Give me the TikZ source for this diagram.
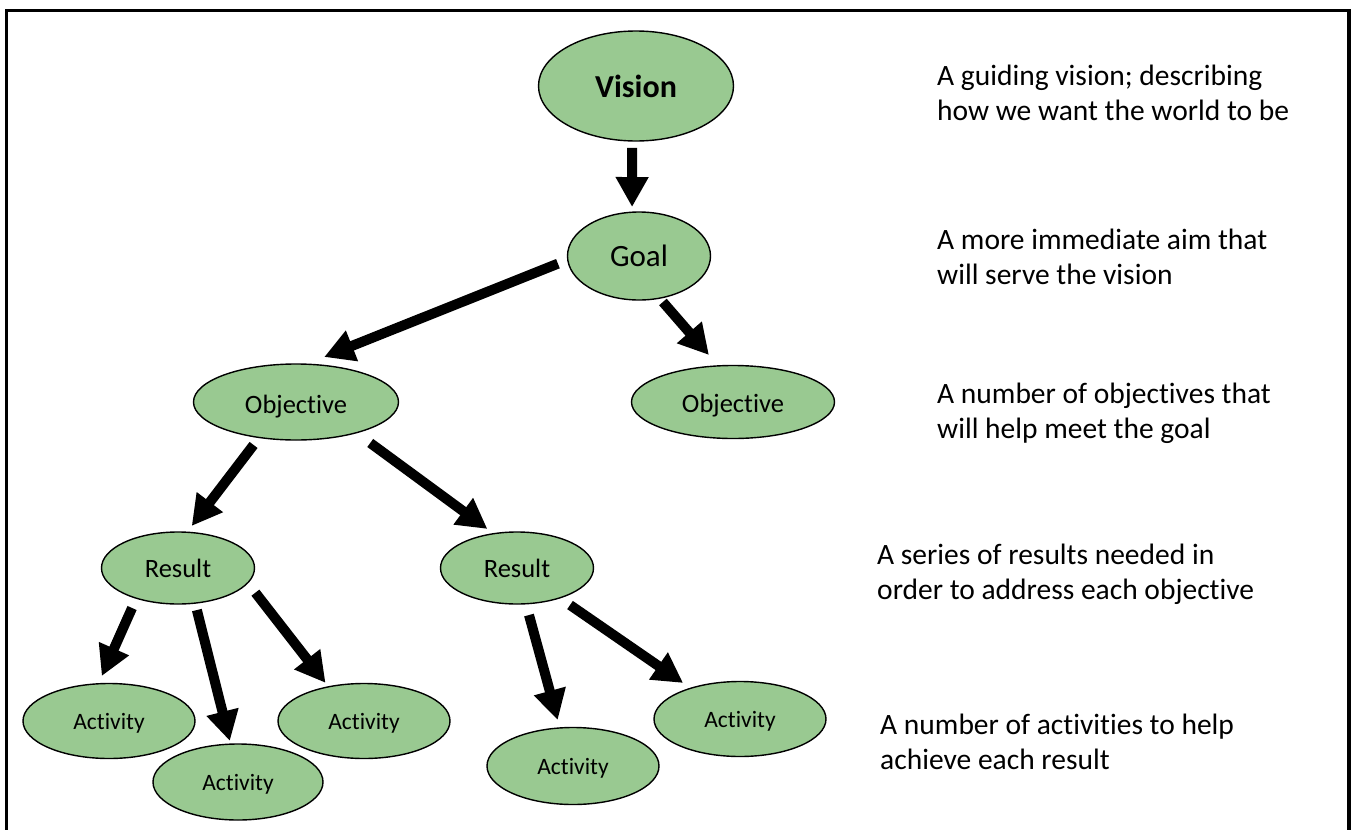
\documentclass[tikz,border=0pt]{standalone}
\usepackage{fontspec}
\setmainfont{Carlito}[Ligatures=NoCommon]
\usetikzlibrary{arrows.meta,shapes.geometric}
\definecolor{nodegreen}{RGB}{153,201,145}
\newcommand{\lowered}[2]{\raisebox{-#1}[\height][\depth]{#2}}
\begin{document}
\begin{tikzpicture}[x=1pt,y=-1pt,
  bubble/.style={ellipse,draw=black,line width=1.4pt,fill=nodegreen,inner sep=0pt,outer sep=0pt,text=black},
  bigarrow/.style={line width=10pt,-{Triangle[width=31pt,length=30pt]}},
  note/.style={anchor=base west,align=left,inner sep=0pt,font=\fontsize{29.5}{35.5}\selectfont},
  fvision/.style={font=\fontsize{32}{36}\selectfont\bfseries},
  fgoal/.style={font=\fontsize{31}{36}\selectfont},
  fmid/.style={font=\fontsize{26.5}{32}\selectfont},
  fact/.style={font=\fontsize{23.5}{28}\selectfont}
]
\useasboundingbox (0,0) rectangle (1355,830);
\draw[line width=3.5pt] (6.7,10.7) rectangle (1349,845);

\node[bubble,fvision,minimum width=195pt,minimum height=110pt] (vision) at (636,86) {Vision};
\node[bubble,fgoal,minimum width=143pt,minimum height=88pt] (goal) at (639,256) {Goal};
\node[bubble,fmid,minimum width=205pt,minimum height=76pt] (objL) at (296,402) {\lowered{5pt}{Objective}};
\node[bubble,fmid,minimum width=203pt,minimum height=73pt] (objR) at (733,402) {\lowered{4pt}{Objective}};
\node[bubble,fmid,minimum width=153pt,minimum height=72pt] (resL) at (178,568) {Result};
\node[bubble,fmid,minimum width=153pt,minimum height=72pt] (resR) at (517,568) {Result};
\node[bubble,fact,minimum width=172pt,minimum height=75pt] (act1) at (109,721) {\lowered{2pt}{Activity}};
\node[bubble,fact,minimum width=170pt,minimum height=76pt] (act2) at (238,782) {\lowered{2pt}{Activity}};
\node[bubble,fact,minimum width=172pt,minimum height=75pt] (act3) at (364,721) {\lowered{2pt}{Activity}};
\node[bubble,fact,minimum width=172pt,minimum height=77pt] (act4) at (573,766) {\lowered{2pt}{Activity}};
\node[bubble,fact,minimum width=172pt,minimum height=75pt] (act5) at (740,719) {\lowered{2pt}{Activity}};

\draw[bigarrow,shorten <=7pt,shorten >=5.2pt] (vision.266) -- (goal.99);
\draw[bigarrow,shorten <=10.6pt,shorten >=19.4pt] (goal.183) -- (objL.75);
\draw[bigarrow,shorten <=5.1pt,shorten >=14.4pt] (goal.296) -- (objR.112);
\draw[bigarrow,shorten <=9.4pt,shorten >=7.9pt] (objL.224) -- (resL.76);
\draw[bigarrow,shorten <=17.3pt,shorten >=8pt] (objL.333) -- (resR.124);
\draw[bigarrow,shorten <=10.7pt,shorten >=8.5pt] (resL.216) -- (act1.106);
\draw[bigarrow,shorten <=7.2pt,shorten >=3.3pt] (resL.296) -- (act2.101);
\draw[bigarrow,shorten <=12.5pt,shorten >=5pt] (resL.348) -- (act3.136);
\draw[bigarrow,shorten <=11.7pt,shorten >=8.3pt] (resR.284) -- (act4.109);
\draw[bigarrow,shorten <=12.6pt,shorten >=9.3pt] (resR.325) -- (act5.148);

\node[note] (n1) at (937,120.5) {A guiding vision; describing\\how we want the world to be};
\node[note] (n2) at (937,284.5) {A more immediate aim that\\will serve the vision};
\node[note] (n3) at (937,438.5) {A number of objectives that\\will help meet the goal};
\node[note] (n4) at (877,599.5) {A series of results needed in\\order to address each objective};
\node[note] (n5) at (880,769.5) {A number of activities to help\\achieve each result};
\end{tikzpicture}
\end{document}
